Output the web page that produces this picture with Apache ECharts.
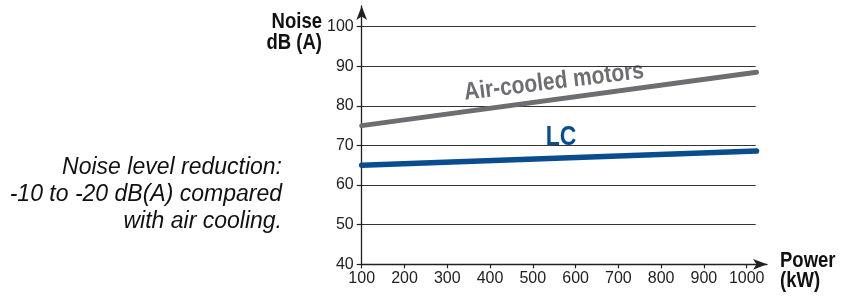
<!DOCTYPE html>
<html>
<head>
<meta charset="utf-8">
<script src="https://cdn.jsdelivr.net/npm/echarts@6/dist/echarts.min.js"></script>
<style>html,body{margin:0;padding:0;background:#fff}#c{width:841px;height:299px}</style>
</head>
<body>
<div id="c"></div>
<script>
// ---- data ----
const powerKW = [100, 1023];
const airCooledDb = [75, 88.5];
const lcDb = [65, 68.6];
const xTickValues = [100, 200, 300, 400, 500, 600, 700, 800, 900, 1000];
const yTickValues = [40, 50, 60, 70, 80, 90, 100];
const seriesNames = ['Air-cooled motors', 'LC'];
const noteLines = ['Noise level reduction:', '-10 to -20 dB(A) compared', 'with air cooling.'];

const FONT = "'Liberation Sans', Arial, sans-serif";
const GREY = '#6d6e71';
const BLUE = '#0a4d8f';
const AX = '#231f20';

const chart = echarts.init(document.getElementById('c'), null, {renderer: 'canvas'});
const L = 361.7, XEND = 767, XGRIDEND = 755.7, YBOT = 264.3, YTOP = 6, Y100 = 26.7;
const W = 841, H = 299;

function label(text, x, y, font, fill, align, extra) {
  return Object.assign({type: 'text', x: x, y: y,
    style: {text: text, align: align, verticalAlign: 'middle', font: font, fill: fill}}, extra || {});
}

chart.setOption({
  animation: false,
  grid: [
    {left: L, right: W - XEND, top: YTOP, bottom: H - YBOT, containLabel: false},
    {left: L, right: W - XGRIDEND, top: Y100, bottom: H - YBOT, containLabel: false}
  ],
  xAxis: [
    {
      gridIndex: 0, type: 'value', min: 100, max: 1047.5,
      axisLine: {show: true, lineStyle: {color: AX, width: 1.3}, symbol: ['none', 'arrow'], symbolSize: [8, 14]},
      axisTick: {show: true, length: 4, lineStyle: {color: AX, width: 1.2}, customValues: xTickValues},
      axisLabel: {customValues: xTickValues, formatter: v => String(v), color: '#222', fontFamily: FONT, fontSize: 16, margin: 6},
      splitLine: {show: false}
    },
    {gridIndex: 1, type: 'value', min: 100, max: 1023, show: false}
  ],
  yAxis: [
    {
      gridIndex: 0, type: 'value', min: 40, max: 105.2,
      axisLine: {show: true, lineStyle: {color: AX, width: 1.3}, symbol: ['none', 'arrow'], symbolSize: [8, 14]},
      axisTick: {show: true, length: 5, lineStyle: {color: AX, width: 1.2}, customValues: yTickValues},
      axisLabel: {customValues: yTickValues, formatter: v => String(v), color: '#222', fontFamily: FONT, fontSize: 16, margin: 8},
      splitLine: {show: false}
    },
    {
      gridIndex: 1, type: 'value', min: 40, max: 100, interval: 10,
      axisLine: {show: false}, axisTick: {show: false}, axisLabel: {show: false},
      splitLine: {show: true, lineStyle: {color: '#333', width: 1}}
    }
  ],
  series: [
    {
      name: seriesNames[0], type: 'line', xAxisIndex: 0, yAxisIndex: 0,
      data: powerKW.map((x, i) => [x, airCooledDb[i]]),
      symbol: 'none', lineStyle: {color: GREY, width: 5, cap: 'round'}, z: 5
    },
    {
      name: seriesNames[1], type: 'line', xAxisIndex: 0, yAxisIndex: 0,
      data: powerKW.map((x, i) => [x, lcDb[i]]),
      symbol: 'none', lineStyle: {color: BLUE, width: 5.5, cap: 'round'}, z: 5
    }
  ],
  graphic: [
    label('Noise', 322, 22, "bold 18.5px " + FONT, '#111', 'right', {scaleY: 1.15}),
    label('dB (A)', 322, 43, "bold 18.5px " + FONT, '#111', 'right', {scaleY: 1.15}),
    label('Power', 780, 261, "bold 18.5px " + FONT, '#111', 'left', {scaleY: 1.15}),
    label('(kW)', 780, 281, "bold 18.5px " + FONT, '#111', 'left', {scaleY: 1.15}),
    label(seriesNames[0], 554, 82, "bold 21px " + FONT, GREY, 'center', {rotation: 0.122, scaleY: 1.18}),
    label(seriesNames[1], 561, 137, "bold 23px " + FONT, BLUE, 'center', {scaleY: 1.22}),
    label(noteLines[0], 282, 168, "italic 23px " + FONT, '#111', 'right'),
    label(noteLines[1], 282, 195, "italic 23px " + FONT, '#111', 'right'),
    label(noteLines[2], 282, 222, "italic 23px " + FONT, '#111', 'right')
  ]
});
</script>
</body>
</html>
